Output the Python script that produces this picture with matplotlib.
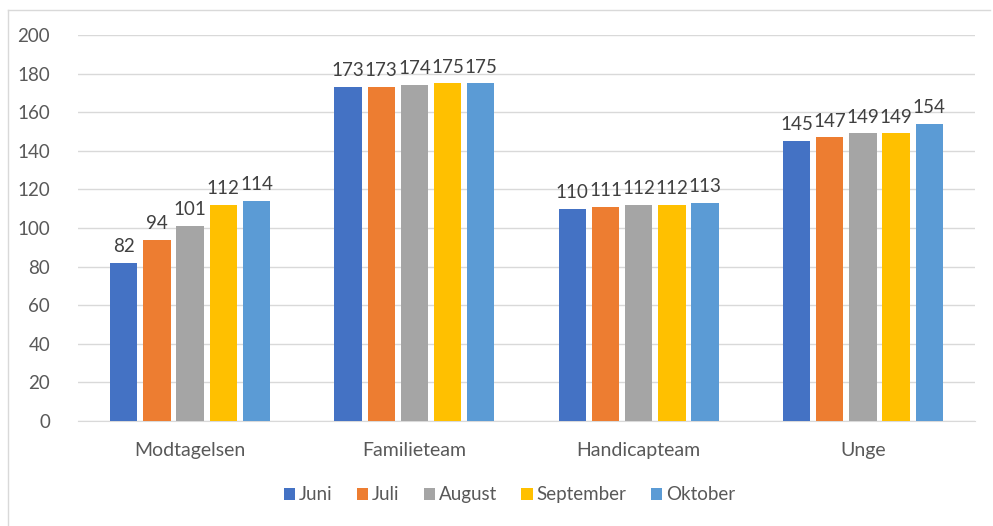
import matplotlib
matplotlib.use("Agg")
import matplotlib.pyplot as plt
import numpy as np
from matplotlib.lines import Line2D

categories = ["Modtagelsen", "Familieteam", "Handicapteam", "Unge"]
series_names = ["Juni", "Juli", "August", "September", "Oktober"]
juni = [82, 173, 110, 145]
juli = [94, 173, 111, 147]
august = [101, 174, 112, 149]
september = [112, 175, 112, 149]
oktober = [114, 175, 113, 154]
series_values = [juni, juli, august, september, oktober]
colors = ["#4472C4", "#ED7D31", "#A5A5A5", "#FFC000", "#5B9BD5"]
yticks = [0, 20, 40, 60, 80, 100, 120, 140, 160, 180, 200]

plt.rcParams['font.family'] = ['Lato', 'DejaVu Sans']

fig = plt.figure(figsize=(9.93, 5.26), dpi=100)
ax = fig.add_axes([0.0785, 0.1996, 0.9035, 0.7339])

x = np.arange(len(categories))
slot = 0.148
bw = 0.122
for i, (name, vals, c) in enumerate(zip(series_names, series_values, colors)):
    pos = x + (i - 2) * slot
    ax.bar(pos, vals, width=bw, color=c, label=name, zorder=3)
    for p, v in zip(pos, vals):
        ax.text(p, v + 4, str(v), ha='center', va='bottom', fontsize=13.5, color='#404040')

ax.set_xlim(-0.5, len(categories) - 0.5)
ax.set_ylim(0, 200)
ax.set_yticks(yticks)
ax.set_yticklabels([str(t) for t in yticks], fontsize=13.5, color='#595959')
ax.set_xticks(x)
ax.set_xticklabels(categories, fontsize=14, color='#595959')
ax.tick_params(axis='both', length=0)
ax.tick_params(axis='x', pad=15)
ax.tick_params(axis='y', pad=20)
ax.grid(axis='y', color='#D9D9D9', linewidth=1, zorder=0)
for s in ['top', 'right', 'left']:
    ax.spines[s].set_visible(False)
ax.spines['bottom'].set_color('#D9D9D9')

fig.legend(loc='center', bbox_to_anchor=(0.513, 0.059), ncol=5, frameon=False,
           fontsize=13.5, handlelength=0.6, handleheight=0.6, handletextpad=0.2,
           columnspacing=1.3, labelcolor='#595959')

# chart border (top and left)
fig.add_artist(Line2D([0.008, 0.997], [0.981, 0.981], color='#D9D9D9', lw=1, transform=fig.transFigure))
fig.add_artist(Line2D([0.008, 0.008], [0.0, 0.981], color='#D9D9D9', lw=1, transform=fig.transFigure))

fig.savefig("out.png", dpi=100)
